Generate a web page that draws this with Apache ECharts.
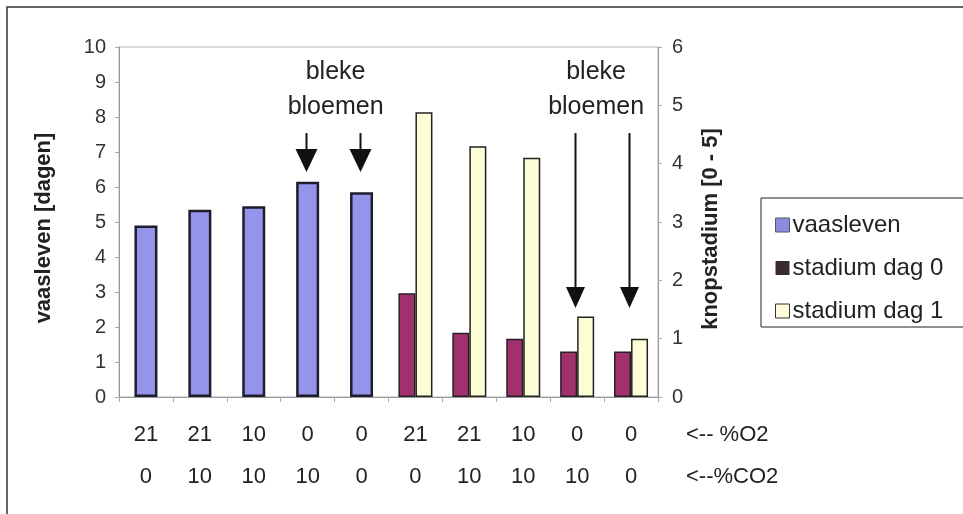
<!DOCTYPE html>
<html>
<head>
<meta charset="utf-8">
<script src="https://cdn.jsdelivr.net/npm/echarts@6/dist/echarts.min.js"></script>
<style>
html,body{margin:0;padding:0;background:#fff;}
#c{width:963px;height:514px;}
</style>
</head>
<body>
<div id="c"></div>
<script>
// ---- data ----
var categories = ['1','2','3','4','5','6','7','8','9','10'];
var o2Labels  = ['21','21','10','0','0','21','21','10','0','0'];
var co2Labels = ['0','10','10','10','0','0','10','10','10','0'];
var vaasleven   = [4.9, 5.35, 5.45, 6.15, 5.85, null, null, null, null, null];
var stadiumDag0 = [null, null, null, null, null, 1.78, 1.1, 1.0, 0.78, 0.78];
var stadiumDag1 = [null, null, null, null, null, 4.88, 4.3, 4.1, 1.38, 1.0];
var leftTicks = [0,10];
var rightTicks = [0,6];
var annotationText = 'bleke\nbloemen';
var arrowCats = [3, 4, 8, 9];

var FONT = 'Liberation Sans, Arial, sans-serif';
var chart = echarts.init(document.getElementById('c'), null, {renderer:'canvas'});

var option = {
  animation: false,
  backgroundColor: '#fff',
  textStyle: {fontFamily: FONT},
  grid: {left: 119, right: 305, top: 47, bottom: 117, show: true, borderColor: '#b4b4c4', borderWidth: 1, backgroundColor: 'transparent'},
  xAxis: [{
    type: 'category', data: categories, gridIndex: 0, position: 'bottom',
    axisLine: {lineStyle: {color: '#999', width: 1}},
    axisTick: {show: true, length: 5, lineStyle: {color: '#aaa'}},
    axisLabel: {
      fontFamily: FONT, fontSize: 22, color: '#222', lineHeight: 42, margin: 17,
      formatter: function (v, i) { return o2Labels[i] + '\n' + co2Labels[i]; }
    }
  }, {
    type: 'category', data: categories, gridIndex: 0, show: false, position: 'bottom'
  }],
  yAxis: [{
    type: 'value', min: leftTicks[0], max: leftTicks[1], interval: 1, position: 'left',
    name: 'vaasleven [dagen]', nameLocation: 'middle', nameGap: 64,
    nameTextStyle: {fontFamily: FONT, fontSize: 22, fontWeight: 'bold', color: '#222', padding: [0, 12, 0, 0]},
    axisLine: {show: true, lineStyle: {color: '#999'}},
    axisTick: {show: true, length: 4, lineStyle: {color: '#aaa'}},
    splitLine: {show: false},
    axisLabel: {fontFamily: FONT, fontSize: 20, color: '#333', margin: 13}
  }, {
    type: 'value', min: rightTicks[0], max: rightTicks[1], interval: 1, position: 'right',
    name: 'knopstadium [0 - 5]', nameLocation: 'middle', nameGap: 42,
    nameTextStyle: {fontFamily: FONT, fontSize: 22, fontWeight: 'bold', color: '#222', padding: [0, 14, 0, 0]},
    axisLine: {show: true, lineStyle: {color: '#999'}},
    axisTick: {show: true, length: 4, lineStyle: {color: '#aaa'}},
    splitLine: {show: false},
    axisLabel: {fontFamily: FONT, fontSize: 20, color: '#333', margin: 14}
  }],
  legend: {
    orient: 'vertical', left: 770, top: 207, itemWidth: 14, itemHeight: 14, itemGap: 17,
    icon: 'rect',
    textStyle: {fontFamily: FONT, fontSize: 24, color: '#222', lineHeight: 26, padding: [0,0,0,-2]},
    data: [
      {name: 'vaasleven', itemStyle: {color: '#8c8cdc', borderColor: '#556', borderWidth: 1}},
      {name: 'stadium dag 0', itemStyle: {color: '#3a2b32', borderWidth: 0}},
      {name: 'stadium dag 1', itemStyle: {color: '#fdfbd8', borderColor: '#333', borderWidth: 1}}
    ]
  },
  series: [{
    name: 'vaasleven', type: 'bar', xAxisIndex: 0, yAxisIndex: 0, data: vaasleven,
    barWidth: 23,
    itemStyle: {color: '#9494ea', borderColor: '#1d1d2e', borderWidth: 2.5}
  }, {
    name: 'stadium dag 0', type: 'bar', xAxisIndex: 1, yAxisIndex: 1, data: stadiumDag0,
    barWidth: 17, barGap: '0%',
    itemStyle: {color: '#a2306c', borderColor: '#222', borderWidth: 1.5}
  }, {
    name: 'stadium dag 1', type: 'bar', xAxisIndex: 1, yAxisIndex: 1, data: stadiumDag1,
    barWidth: 17, barGap: '0%',
    itemStyle: {color: '#fefed6', borderColor: '#222', borderWidth: 1.5}
  }]
};
chart.setOption(option);

// ---- annotations (arrows positioned through the axes) ----
var arrowSpecs = [
  {cat: arrowCats[0], top: 7.54, tip: 6.43, w: 22, h: 23},
  {cat: arrowCats[1], top: 7.54, tip: 6.43, w: 22, h: 23},
  {cat: arrowCats[2], top: 7.54, tip: 2.54, w: 19, h: 21},
  {cat: arrowCats[3], top: 7.54, tip: 2.54, w: 19, h: 21}
];
var graphics = [];
arrowSpecs.forEach(function (a) {
  var p1 = chart.convertToPixel({xAxisIndex: 0, yAxisIndex: 0}, [a.cat, a.top]);
  var p2 = chart.convertToPixel({xAxisIndex: 0, yAxisIndex: 0}, [a.cat, a.tip]);
  var x = Math.round(p1[0]) - 1.5;
  graphics.push({type: 'line', shape: {x1: x, y1: p1[1], x2: x, y2: p2[1] - a.h + 2}, style: {stroke: '#111', lineWidth: 2}});
  graphics.push({type: 'polygon', shape: {points: [[x - a.w / 2, p2[1] - a.h], [x + a.w / 2, p2[1] - a.h], [x, p2[1]]]}, style: {fill: '#111'}});
});
var t1 = chart.convertToPixel({xAxisIndex: 0, yAxisIndex: 0}, [arrowCats[0], 0]);
var t2 = chart.convertToPixel({xAxisIndex: 0, yAxisIndex: 0}, [arrowCats[1], 0]);
var t3 = chart.convertToPixel({xAxisIndex: 0, yAxisIndex: 0}, [arrowCats[2], 0]);
var t4 = chart.convertToPixel({xAxisIndex: 0, yAxisIndex: 0}, [arrowCats[3], 0]);
[[(t1[0] + t2[0]) / 2 + 1, 55], [(t3[0] + t4[0]) / 2 - 8, 55]].forEach(function (p) {
  graphics.push({type: 'text', x: p[0], y: p[1], style: {text: annotationText, font: '25px ' + FONT, fill: '#222', align: 'center', verticalAlign: 'top', lineHeight: 35}});
});
// axis row captions
graphics.push({type: 'text', x: 686, y: 435, style: {text: '<-- %O2', font: '22px ' + FONT, fill: '#222', verticalAlign: 'middle'}});
graphics.push({type: 'text', x: 686, y: 477, style: {text: '<--%CO2', font: '22px ' + FONT, fill: '#222', verticalAlign: 'middle'}});
// legend box
graphics.push({type: 'rect', shape: {x: 761, y: 198, width: 230, height: 129}, style: {fill: 'none', stroke: '#222', lineWidth: 1}, z: -1});
// outer frame
graphics.push({type: 'polyline', shape: {points: [[7, 514], [7, 7], [963, 7]]}, style: {stroke: '#333', lineWidth: 1.5, fill: 'none'}});
chart.setOption({graphic: graphics});
</script>
</body>
</html>
